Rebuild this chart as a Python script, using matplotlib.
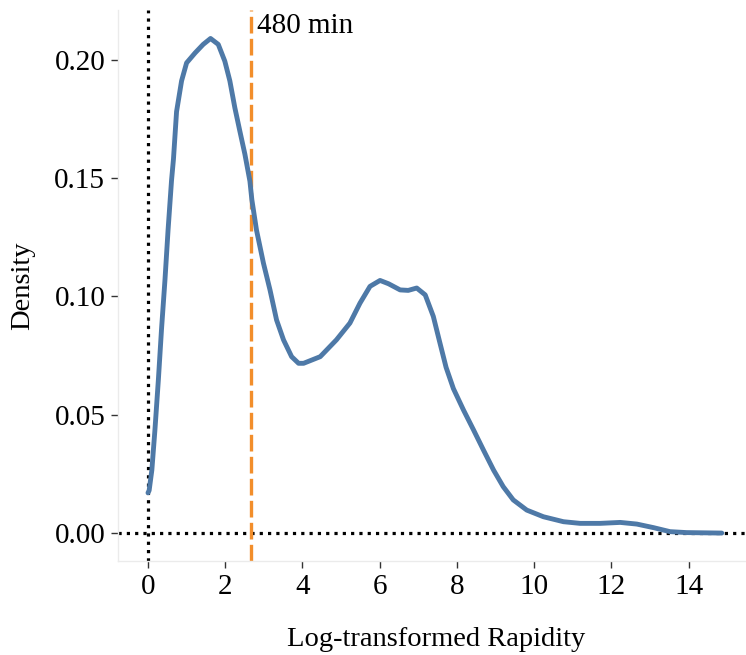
import numpy as np
import matplotlib.pyplot as plt

# densidad estimada de la rapidez (log)
x = [0.00, 0.03, 0.10, 0.18, 0.27, 0.35, 0.44, 0.52, 0.61, 0.66, 0.74,
     0.87, 1.00, 1.22, 1.43, 1.62, 1.82, 1.99, 2.12, 2.25, 2.38, 2.51,
     2.64, 2.69, 2.81, 2.99, 3.16, 3.33, 3.51, 3.72, 3.90, 4.03, 4.46,
     4.88, 5.23, 5.49, 5.75, 6.01, 6.23, 6.53, 6.74, 6.96, 7.18, 7.39,
     7.55, 7.72, 7.91, 8.17, 8.43, 8.69, 8.95, 9.20, 9.46, 9.81, 10.24,
     10.76, 11.19, 11.71, 12.23, 12.66, 13.09, 13.52, 13.95, 14.86]
densidad = [0.0170, 0.0180, 0.0266, 0.0436, 0.0650, 0.0860, 0.1070, 0.1280,
            0.1490, 0.1580, 0.1780, 0.1910, 0.1986, 0.2028, 0.2064, 0.2089,
            0.2064, 0.1993, 0.1910, 0.1796, 0.1697, 0.1600, 0.1486, 0.1408,
            0.1280, 0.1140, 0.1027, 0.0900, 0.0816, 0.0745, 0.0717, 0.0717,
            0.0745, 0.0816, 0.0887, 0.0971, 0.1042, 0.1067, 0.1053, 0.1027,
            0.1025, 0.1035, 0.1006, 0.0915, 0.0810, 0.0700, 0.0610, 0.0520,
            0.0436, 0.0350, 0.0266, 0.0196, 0.0140, 0.0097, 0.0069, 0.0048,
            0.0041, 0.0041, 0.0045, 0.0038, 0.0023, 0.0006, 0.0002, 0.0000]

corte = 2.68          # log10(480)
etiqueta_corte = "480 min"

plt.rcParams['font.family'] = ['Liberation Serif', 'DejaVu Serif']

fig = plt.figure(figsize=(7.46, 6.55), dpi=100)
ax = fig.add_axes([0.158, 0.1435, 0.853, 0.8415])

ax.axhline(0, color="black", ls=(0, (1, 1.6)), lw=2.3, zorder=1)
ax.axvline(0, color="black", ls=(0, (1, 1.6)), lw=2.3, zorder=1)
ax.plot(x, densidad, color="#4e79a7", lw=3.5, solid_capstyle="round",
        solid_joinstyle="round", zorder=3)
ax.axvline(corte, color="#f28e2b", ls=(0, (5, 1.6)), lw=2.4, zorder=2)
ax.text(corte + 0.15, 0.2195, etiqueta_corte, fontsize=21, va="top", ha="left")

ax.set_xlim(-0.78, 15.7)
ax.set_ylim(-0.0118, 0.221)
ax.set_xticks([0, 2, 4, 6, 8, 10, 12, 14])
ax.set_yticks([0.0, 0.05, 0.10, 0.15, 0.20])
ax.set_yticklabels(["0.00", "0.05", "0.10", "0.15", "0.20"])
ax.tick_params(labelsize=21, length=5, width=1, color="#333333", pad=4)

ax.set_xlabel("Log-transformed Rapidity", fontsize=20.5, labelpad=20)
ax.set_ylabel("Density", fontsize=20.5, labelpad=14)

for lado in ["top", "right"]:
    ax.spines[lado].set_visible(False)
for lado in ["left", "bottom"]:
    ax.spines[lado].set_color("#ebebeb")
    ax.spines[lado].set_linewidth(1)

fig.savefig("out.png", dpi=100)
